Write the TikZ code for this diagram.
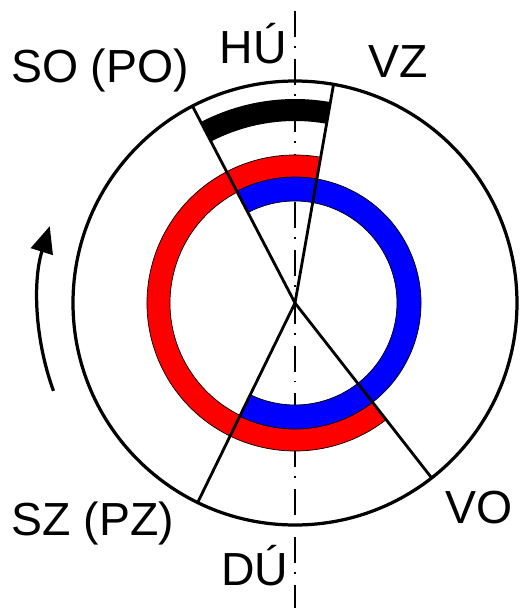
\documentclass[tikz,border=0pt]{standalone}
\usepackage{fontspec}
\setmainfont{Liberation Sans}
\usetikzlibrary{arrows.meta, calc}
\definecolor{ringred}{RGB}{255, 0, 0}
\definecolor{ringblue}{RGB}{0, 0, 255}

\begin{document}
\begin{tikzpicture}[
    x=0.025cm, y=0.025cm,
    axisline/.style={line width=1.4pt, dash pattern=on 18.4pt off 6.4pt on 1.4pt off 7.8pt, dash phase=26.2pt},
    crank/.style={line width=2pt},
    ringband/.style={draw=black, line width=0.5pt},
    lbl/.style={font=\fontsize{33}{39}\selectfont, inner sep=0pt, anchor=base}
]
\useasboundingbox (-295,-305) rectangle (225,303);
\coordinate (O) at (0,0);
\coordinate (axtop) at (0,303);
\coordinate (axbot) at (0,-305);
\coordinate (so) at (117.5:222);
\coordinate (vz) at (80:222);
\coordinate (sz) at (244:222);
\coordinate (vo) at (308:222);

\draw[axisline] (axtop) -- (axbot);

\filldraw[fill=ringred, ringband] (80:148) arc[start angle=80, end angle=308, radius=148] -- (308:125) arc[start angle=308, end angle=80, radius=125] -- cycle;
\filldraw[fill=ringblue, ringband] (-116:126) arc[start angle=-116, end angle=117.5, radius=126] -- (117.5:102) arc[start angle=117.5, end angle=-116, radius=102] -- cycle;
\fill[black] (80:204) arc[start angle=80, end angle=117.5, radius=204] -- (117.5:182) arc[start angle=117.5, end angle=80, radius=182] -- cycle;

\draw[line width=2.3pt] (O) circle[radius=222];
\draw[crank] (O) -- (so);
\draw[crank] (O) -- (vz);
\draw[crank] (O) -- (sz);
\draw[crank] (O) -- (vo);

\draw[line width=2.3pt, -{Triangle[length=19pt, width=16pt]}] (200:257) arc[start angle=200, end angle=162.6, radius=257];

\node[lbl] (lso) at (-195,221) {SO (PO)};
\node[lbl] (lhu) at (-41.5,240) {HÚ};
\node[lbl] (lvz) at (103,226) {VZ};
\node[lbl] (lsz) at (-202,-232) {SZ (PZ)};
\node[lbl] (lvo) at (184.5,-220) {VO};
\node[lbl] (ldu) at (-40,-282) {DÚ};
\end{tikzpicture}
\end{document}
